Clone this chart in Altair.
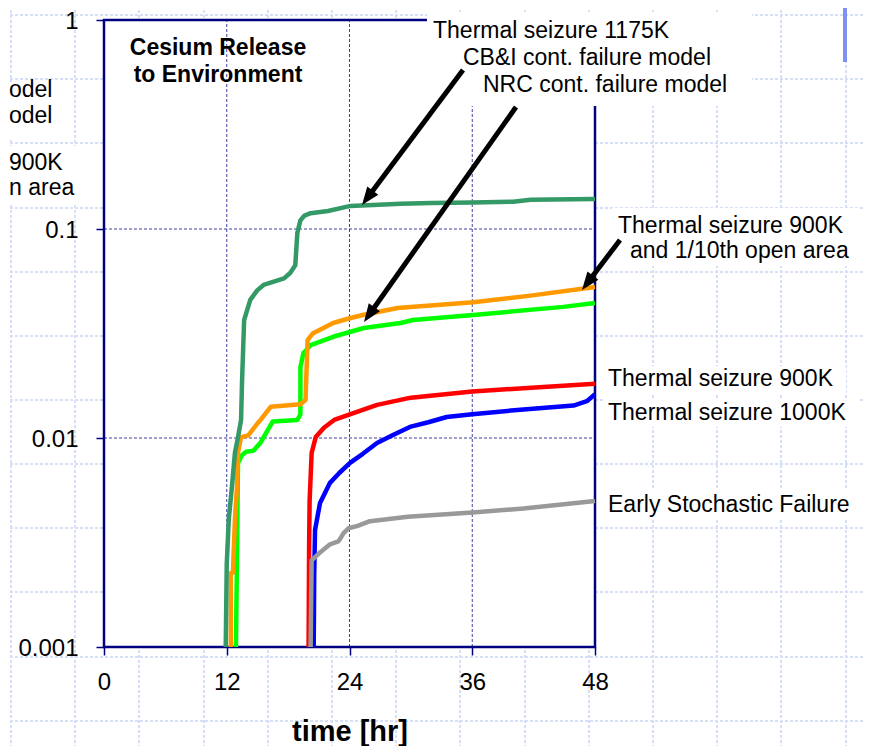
import math
import altair as alt
import pandas as pd

# ---------------- data ----------------
names = ["Thermal seizure 900K", "Thermal seizure 1000K", "Early Stochastic Failure",
         "NRC cont. failure model", "CB&I cont. failure model", "Thermal seizure 1175K"]
colors = ["#ff0000", "#0000ff", "#999999", "#00ff00", "#ff9900", "#339966"]

t_900 = [20.0, 20.05, 20.1, 20.3, 20.7, 21.5, 22.5, 24.1, 26.7, 30.0, 36.0, 41.0, 48.0]
v_900 = [0.001, 0.003, 0.005, 0.0085, 0.0101, 0.0112, 0.0122, 0.013, 0.0144, 0.0156, 0.0167, 0.0173, 0.0182]

t_1000 = [20.5, 20.55, 20.63, 21.12, 21.6, 22.09, 23.0, 24.05, 25.3, 26.69, 28.2, 29.9, 31.7, 33.5,
          36.0, 41.0, 45.9, 47.2, 48.0]
v_1000 = [0.001, 0.0022, 0.00363, 0.00489, 0.00546, 0.0061, 0.0068, 0.0076, 0.0084, 0.00946, 0.0103,
          0.0113, 0.0119, 0.0126, 0.0130, 0.0137, 0.0143, 0.0150, 0.0162]

t_early = [20.2, 20.3, 21.0, 22.1, 22.9, 23.1, 23.4, 23.9, 24.8, 26.0, 29.7, 36.0, 41.0, 48.0]
v_early = [0.001, 0.0026, 0.0028, 0.0031, 0.0032, 0.0033, 0.0035, 0.0037, 0.0038, 0.0040, 0.0042,
           0.0044, 0.0046, 0.0050]

t_nrc = [12.9, 13.1, 13.5, 13.9, 14.6, 15.3, 16.5, 18.9, 19.2, 19.2, 19.5, 20.2, 22.4, 25.4, 29.0,
         30.2, 36.1, 44.9, 48.0]
v_nrc = [0.001, 0.0076, 0.0083, 0.0086, 0.0087, 0.0095, 0.0120, 0.0122, 0.013, 0.0218, 0.0255, 0.0278,
         0.0305, 0.0336, 0.0355, 0.0367, 0.0388, 0.0424, 0.0443]

t_cbi = [12.4, 12.4, 12.6, 12.8, 13.0, 13.1, 13.4, 14.1, 15.1, 15.3, 16.3, 19.2, 19.7, 19.9, 20.4,
         22.4, 24.1, 25.4, 28.7, 36.1, 41.7, 48.0]
v_cbi = [0.001, 0.00226, 0.00226, 0.0041, 0.0058, 0.0085, 0.0101, 0.0103, 0.0119, 0.0122, 0.0141,
         0.0145, 0.0152, 0.0294, 0.0316, 0.0355, 0.0375, 0.0389, 0.0419, 0.0446, 0.048, 0.0528]

t_1175 = [11.9, 12.0, 12.2, 12.5, 12.8, 13.1, 13.4, 13.5, 13.7, 14.3, 15.0, 15.6, 16.6, 17.6, 18.2,
          18.7, 18.9, 19.2, 19.6, 20.2, 21.9, 24.1, 29.0, 32.0, 36.0, 40.0, 41.7, 48.0]
v_1175 = [0.001, 0.0025, 0.0041, 0.0058, 0.0085, 0.0101, 0.0122, 0.019, 0.0367, 0.0458, 0.051, 0.054,
          0.056, 0.058, 0.0616, 0.067, 0.0957, 0.110, 0.116, 0.119, 0.122, 0.129, 0.132, 0.133, 0.134,
          0.135, 0.138, 0.139]

x_ticks = [0, 12, 24, 36, 48]
y_ticks = [0.001, 0.01, 0.1, 1]
x_grid = [12, 24, 36]
y_grid = [0.01, 0.1]

label_texts = ["Thermal seizure 1175K", "CB&I cont. failure model", "NRC cont. failure model",
               "Thermal seizure 900K", "and 1/10th open area",
               "Thermal seizure 900K", "Thermal seizure 1000K", "Early Stochastic Failure"]
# text fragments visible at the slide's left edge
cut_texts = ["odel", "odel", "900K", "n area"]
title_lines = ["Cesium Release", "to Environment"]

# ---------------- layout ----------------
W, H = 491, 627
PAD_L, PAD_T = 96, 12
PAD_R = 855 - PAD_L - W
PAD_B = 738 - PAD_T - H
X0, Y0 = 8 + PAD_L, 8 + PAD_T          # page position of the plot origin
XMAX, YMIN, YMAX = 48.0, 0.001, 1.0


def tx(px):
    """page x pixel -> hours"""
    return (px - X0) / W * XMAX


def vy(py):
    """page y pixel -> value on the log axis"""
    return 10 ** (-3.0 * (py - Y0) / H)


xs = alt.Scale(domain=[0, XMAX], nice=False, zero=False)
ys = alt.Scale(type="log", domain=[YMIN, YMAX], nice=False)

x_axis = alt.Axis(values=x_ticks, grid=False, domain=False, tickSize=8, tickColor="#000080",
                  tickWidth=1.5, labelFontSize=24, labelColor="black", labelPadding=15,
                  labelFlush=False, labelFont="Liberation Sans", title="time [hr]",
                  titleFontSize=29, titleFontWeight="bold", titleColor="black",
                  titleFont="Liberation Sans", titleBaseline="alphabetic", titleY=93, zindex=1)
y_axis = alt.Axis(values=y_ticks, format="~g", grid=False, domain=False, tickSize=8,
                  tickColor="#000080", tickWidth=1.5, labelFontSize=24, labelColor="black",
                  labelPadding=18, labelOffset=1, labelFont="Liberation Sans", title=None, zindex=1)

X = alt.X("x:Q", scale=xs, axis=x_axis)
Y = alt.Y("y:Q", scale=ys, axis=y_axis)
X2 = alt.X2("x2:Q")
Y2 = alt.Y2("y2:Q")

# ---------------- background slide grid ----------------
bg_vx = [11, 75, 139, 204, 268, 332, 396, 460, 525, 589, 653, 717, 781, 846]
bg_hy = [15, 79, 143, 208, 272, 336, 400, 464, 528, 592, 657, 721]
bg_rows = []
for px in bg_vx:
    bg_rows.append(dict(x=tx(px), x2=tx(px), y=vy(0), y2=vy(760)))
for py in bg_hy:
    bg_rows.append(dict(x=tx(0), x2=tx(880), y=vy(py), y2=vy(py)))
bg = alt.Chart(pd.DataFrame(bg_rows)).mark_rule(
    stroke="#d6dff7", strokeWidth=2, strokeDash=[3, 2]).encode(x=X, x2=X2, y=Y, y2=Y2)

plot_bg = alt.Chart(pd.DataFrame([dict(x=0, x2=XMAX, y=YMIN, y2=YMAX)])).mark_rect(
    color="white").encode(x=X, x2=X2, y=Y, y2=Y2)

grid_rows = [dict(x=g, x2=g, y=YMIN, y2=YMAX) for g in x_grid] + \
            [dict(x=0, x2=XMAX, y=g, y2=g) for g in y_grid]
grid = alt.Chart(pd.DataFrame(grid_rows)).mark_rule(
    stroke="#000080", strokeWidth=1, strokeDash=[3, 2], opacity=0.75).encode(
    x=X, x2=X2, y=Y, y2=Y2)

frame = alt.Chart(pd.DataFrame([dict(x=0, x2=XMAX, y=YMIN, y2=YMAX)])).mark_rect(
    fillOpacity=0, stroke="#000080", strokeWidth=2.5).encode(x=X, x2=X2, y=Y, y2=Y2)

# white text boxes of the slide (page pixels: x1, x2, y1, y2)
boxes = [(427, 752, 12, 106), (612, 860, 208, 266), (603, 846, 366, 393),
         (603, 860, 398, 427), (603, 860, 490, 518), (0, 70, 82, 140), (0, 80, 146, 205)]
box_rows = [dict(x=tx(a), x2=tx(b), y=vy(d), y2=vy(c)) for a, b, c, d in boxes]
box_layer = alt.Chart(pd.DataFrame(box_rows)).mark_rect(color="white").encode(
    x=X, x2=X2, y=Y, y2=Y2)

blue_bar = alt.Chart(pd.DataFrame([dict(x=tx(845), x2=tx(845), y=vy(0), y2=vy(62))])).mark_rule(
    stroke="#7f91f0", strokeWidth=4).encode(x=X, x2=X2, y=Y, y2=Y2)

# ---------------- data lines ----------------
rows = []
for name, ts, vs in zip(names, [t_900, t_1000, t_early, t_nrc, t_cbi, t_1175],
                        [v_900, v_1000, v_early, v_nrc, v_cbi, v_1175]):
    for i, (t, v) in enumerate(zip(ts, vs)):
        rows.append(dict(x=t, y=v, s=name, i=i))
lines = alt.Chart(pd.DataFrame(rows)).mark_line(strokeWidth=4.5, strokeJoin="round").encode(
    x=X, y=Y,
    color=alt.Color("s:N", scale=alt.Scale(domain=names, range=colors), legend=None),
    order=alt.Order("i:Q"))

# ---------------- arrows ----------------
arrows = [((463, 70), (362, 205)), ((516, 107), (364, 322)), ((620, 240), (582, 290))]
HEAD = 18
shaft_rows, head_rows = [], []
for (sx, sy), (ex, ey) in arrows:
    dx, dy = ex - sx, ey - sy
    L = math.hypot(dx, dy)
    ux, uy = dx / L, dy / L
    bx, by = ex - ux * HEAD * 0.75, ey - uy * HEAD * 0.75
    shaft_rows.append(dict(x=tx(sx), y=vy(sy), x2=tx(bx), y2=vy(by)))
    head_rows.append(dict(x=tx(ex), y=vy(ey), ang=math.degrees(math.atan2(dx, -dy)) % 360))
shafts = alt.Chart(pd.DataFrame(shaft_rows)).mark_rule(
    stroke="black", strokeWidth=5).encode(x=X, x2=X2, y=Y, y2=Y2)
k = HEAD / 1.1
heads = alt.Chart(pd.DataFrame(head_rows)).mark_point(
    shape="M0,0 L-0.42,1.1 L0.42,1.1 Z", filled=True, color="black", opacity=1,
    size=(2 * k) ** 2).encode(x=X, y=Y, angle=alt.Angle("ang:Q", scale=None))

# ---------------- text ----------------
lab_px = [(433, 38), (463, 65), (483, 92), (618, 233), (630, 258), (608, 386), (608, 420), (608, 512)]
labels = alt.Chart(pd.DataFrame(dict(
    x=[tx(p[0]) for p in lab_px], y=[vy(p[1]) for p in lab_px], text=label_texts))).mark_text(
    align="left", baseline="alphabetic", fontSize=23, font="Liberation Sans", color="black").encode(
    x=X, y=Y, text="text:N")

cut_px = [(9, 97), (9, 123), (9, 170), (9, 195)]
cut = alt.Chart(pd.DataFrame(dict(
    x=[tx(p[0]) for p in cut_px], y=[vy(p[1]) for p in cut_px], text=cut_texts))).mark_text(
    align="left", baseline="alphabetic", fontSize=23, font="Liberation Sans", color="black").encode(
    x=X, y=Y, text="text:N")

ttl_px = [(218, 55), (218, 82)]
ttl = alt.Chart(pd.DataFrame(dict(
    x=[tx(p[0]) for p in ttl_px], y=[vy(p[1]) for p in ttl_px], text=title_lines))).mark_text(
    align="center", baseline="alphabetic", fontSize=23, fontWeight="bold",
    font="Liberation Sans", color="black").encode(x=X, y=Y, text="text:N")

chart = alt.layer(bg, blue_bar, plot_bg, grid, frame, box_layer, lines, shafts, heads,
                  labels, cut, ttl).properties(
    width=W, height=H,
    padding={"left": PAD_L, "top": PAD_T, "right": PAD_R, "bottom": PAD_B},
    autosize=alt.AutoSizeParams(type="none"),
    background="white",
).configure_view(strokeWidth=0).configure(font="Liberation Sans")

chart.save("out.html", embed_options={"renderer": "svg", "actions": False})
